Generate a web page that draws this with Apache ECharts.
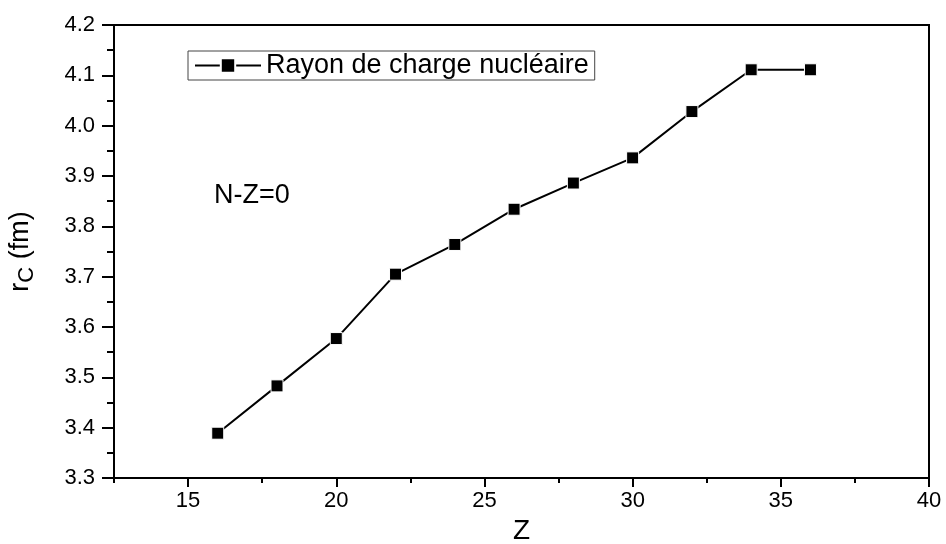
<!DOCTYPE html>
<html>
<head>
<meta charset="utf-8">
<script src="https://cdn.jsdelivr.net/npm/echarts@6/dist/echarts.min.js"></script>
<style>
  html, body { margin: 0; padding: 0; background: #fff; }
  #chart { width: 946px; height: 544px; }
</style>
</head>
<body>
<div id="chart"></div>
<script>
// Z (numéro atomique) et rayon de charge r_c (fm), N-Z=0
const zValues = [16, 18, 20, 22, 24, 26, 28, 30, 32, 34, 36];
const rcValues = [3.389, 3.483, 3.577, 3.705, 3.764, 3.834, 3.886, 3.936, 4.028, 4.111, 4.111];
const xMajorTicks = [15, 20, 25, 30, 35, 40];
const xMinorTicks = [12.5, 17.5, 22.5, 27.5, 32.5, 37.5];

const seriesName = 'Rayon de charge nucléaire';
const fontFam = 'Arial, "Liberation Sans", sans-serif';

var myChart = echarts.init(document.getElementById('chart'));

let points = zValues.map((z, i) => [z, rcValues[i]]);

let option = {
    animation: false,
    backgroundColor: '#fff',
    textStyle: { fontFamily: fontFam, color: '#000' },
    grid: {
        left: 114,
        right: 17,
        top: 25,
        bottom: 66,
        outerBoundsMode: 'none',
        show: true,
        borderColor: '#000',
        borderWidth: 2
    },
    legend: {
        left: 188,
        top: 51,
        padding: [1, 6],
        borderColor: '#444',
        borderWidth: 1,
        itemWidth: 66,
        itemHeight: 18,
        itemGap: 5,
        textStyle: { fontSize: 27, color: '#000', fontFamily: fontFam },
        data: [seriesName]
    },
    graphic: [
        {
            type: 'text',
            left: 214,
            top: 182,
            style: {
                text: 'N-Z=0',
                fontSize: 27,
                fontFamily: fontFam,
                fill: '#000'
            }
        }
    ],
    xAxis: [
        {
            type: 'value',
            min: 12.5,
            max: 40,
            position: 'bottom',
            name: 'Z',
            nameLocation: 'middle',
            nameGap: 37,
            nameTextStyle: { fontSize: 28, color: '#000', fontFamily: fontFam },
            axisLine: { lineStyle: { color: '#000', width: 2 } },
            axisTick: {
                customValues: xMajorTicks,
                length: 9,
                lineStyle: { color: '#000', width: 2 }
            },
            axisLabel: {
                customValues: xMajorTicks,
                fontSize: 22,
                color: '#000',
                margin: 12,
                fontFamily: fontFam
            },
            splitLine: { show: false }
        },
        {
            // ticks mineurs
            type: 'value',
            min: 12.5,
            max: 40,
            position: 'bottom',
            axisLine: { show: false },
            axisTick: {
                customValues: xMinorTicks,
                length: 5,
                lineStyle: { color: '#000', width: 2 }
            },
            axisLabel: { show: false },
            splitLine: { show: false }
        }
    ],
    yAxis: {
        type: 'value',
        min: 3.3,
        max: 4.2,
        interval: 0.1,
        name: 'r{s|C} (fm)',
        nameLocation: 'middle',
        nameGap: 76,
        nameTextStyle: {
            fontSize: 27,
            color: '#000',
            fontFamily: fontFam,
            rich: {
                s: { fontSize: 22, verticalAlign: 'bottom', padding: [12, 0, 0, 0], fontFamily: fontFam }
            }
        },
        axisLine: { lineStyle: { color: '#000', width: 2 } },
        axisTick: { length: 12, lineStyle: { color: '#000', width: 2 } },
        minorTick: { show: true, splitNumber: 2, length: 7, lineStyle: { color: '#000', width: 2 } },
        axisLabel: {
            fontSize: 22,
            color: '#000',
            margin: 19,
            fontFamily: fontFam,
            formatter: function (v) { return v.toFixed(1); }
        },
        splitLine: { show: false },
        minorSplitLine: { show: false }
    },
    series: [{
        name: seriesName,
        type: 'line',
        xAxisIndex: 0,
        data: points,
        symbol: 'rect',
        symbolSize: 12,
        color: '#000',
        lineStyle: { color: '#000', width: 2 },
        itemStyle: { color: '#000', borderColor: '#fff', borderWidth: 1 }
    }]
};

myChart.setOption(option);
</script>
</body>
</html>
